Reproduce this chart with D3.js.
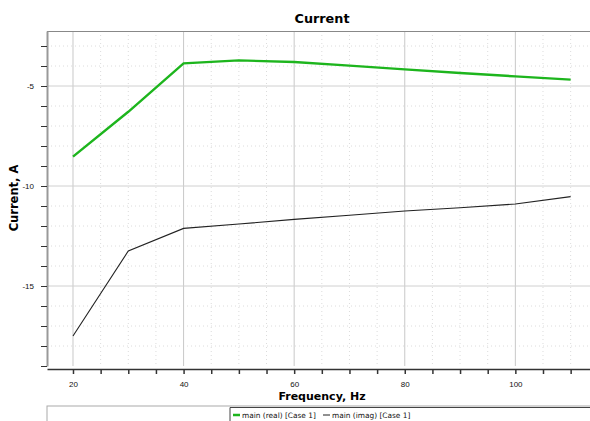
<!DOCTYPE html>
<html>
<head>
<meta charset="utf-8">
<script src="https://cdn.jsdelivr.net/npm/d3@7"></script>
<style>
body{margin:0;background:#fff}
svg{display:block;font-family:"DejaVu Sans",Verdana,sans-serif}
</style>
</head>
<body>
<script>
const w=590
const h=421

// data
const freq=[20,30,40,50,60,70,80,90,100,110]
const realVals=[-8.53,-6.29,-3.87,-3.72,-3.8,-3.98,-4.17,-4.35,-4.52,-4.68]
const imagVals=[-17.5,-13.25,-12.12,-11.9,-11.67,-11.46,-11.25,-11.09,-10.9,-10.53]
const xLabelTicks=[20,40,60,80,100]
const yLabelTicks=[-5,-10,-15]
const seriesNames=["main (real) [Case 1]","main (imag) [Case 1]"]

const pLeft=47, pRight=590, pTop=31, pBottom=366

const x=d3.scaleLinear()
    .domain([15.3,113.5])
    .range([pLeft,pRight])

const y=d3.scaleLinear()
    .domain([-19,-2.25])
    .range([pBottom,pTop])

const svg=d3.create("svg")
    .attr("width",w)
    .attr("height",h)

svg.append("rect").attr("width",w).attr("height",h).attr("fill","#fff")

//grid
const g=svg.append("g")
const minorX=d3.range(20,115,5).filter(d=>!xLabelTicks.includes(d))
const minorY=d3.range(-18,-2,1).filter(d=>!yLabelTicks.includes(d))

g.selectAll(".mx").data(minorX).enter().append("line")
    .attr("x1",d=>x(d)).attr("x2",d=>x(d))
    .attr("y1",pTop).attr("y2",pBottom)
    .attr("stroke","#dcdcdc").attr("stroke-dasharray","1,3")
g.selectAll(".my").data(minorY).enter().append("line")
    .attr("x1",pLeft).attr("x2",pRight)
    .attr("y1",d=>y(d)).attr("y2",d=>y(d))
    .attr("stroke","#dcdcdc").attr("stroke-dasharray","1,3")
g.selectAll(".Mx").data(xLabelTicks).enter().append("line")
    .attr("x1",d=>x(d)).attr("x2",d=>x(d))
    .attr("y1",pTop).attr("y2",pBottom)
    .attr("stroke","#c8c8c8")
g.selectAll(".My").data(yLabelTicks).enter().append("line")
    .attr("x1",pLeft).attr("x2",pRight)
    .attr("y1",d=>y(d)).attr("y2",d=>y(d))
    .attr("stroke","#d0d0d0")

//frame top
svg.append("line").attr("x1",pLeft).attr("x2",pRight).attr("y1",pTop+0.5).attr("y2",pTop+0.5)
    .attr("stroke","#888")

//lines
const line=d3.line().x((d,i)=>x(freq[i])).y(d=>y(d))
svg.append("path").datum(imagVals)
    .attr("d",line).attr("fill","none")
    .attr("stroke","#222").attr("stroke-width",1.1)
svg.append("path").datum(realVals)
    .attr("d",line).attr("fill","none")
    .attr("stroke","#1db51d").attr("stroke-width",2.4)

//axes
const xAxis=svg.append("g")
    .attr("transform",`translate(0,369)`)
    .call(d3.axisBottom(x).tickValues(d3.range(20,115,5)).tickSize(5).tickSizeOuter(0)
        .tickFormat(d=>xLabelTicks.includes(d)?d:""))
xAxis.select(".domain").attr("stroke","#333").attr("stroke-width",1.5)
xAxis.selectAll(".tick line").attr("stroke","#333").attr("stroke-width",1.5)
xAxis.selectAll("text").attr("font-size",8).attr("fill","#111").attr("y",17.5).attr("dy",0)

const yAxis=svg.append("g")
    .attr("transform",`translate(${pLeft},0)`)
    .call(d3.axisLeft(y).tickValues(d3.range(-19,-2,1)).tickSize(6).tickSizeOuter(0)
        .tickFormat(d=>yLabelTicks.includes(d)?d:""))
yAxis.select(".domain").attr("stroke","#999").attr("stroke-width",2)
yAxis.selectAll(".tick line").attr("stroke","#333")
yAxis.selectAll("text").attr("font-size",8).attr("fill","#111").attr("x",-13)

//titles
svg.append("text").attr("x",322).attr("y",23).attr("text-anchor","middle")
    .attr("font-size",12.8).attr("font-weight","bold").text("Current")
svg.append("text").attr("x",322).attr("y",400).attr("text-anchor","middle")
    .attr("font-size",11).attr("font-weight","bold").text("Frequency, Hz")
svg.append("text").attr("transform","translate(18,198) rotate(-90)").attr("text-anchor","middle")
    .attr("font-size",11.5).attr("font-weight","bold").text("Current, A")

//legend
svg.append("rect").attr("x",pLeft).attr("y",406).attr("width",pRight-pLeft+2).attr("height",20)
    .attr("fill","#fff").attr("stroke","#aaa")
svg.append("path").attr("d",`M230,${h} V407.5 H${pRight}`).attr("fill","none").attr("stroke","#444")
const legColors=["#1db51d","#222"]
const legX=[233,323]
const lg=svg.append("g").selectAll("g").data(seriesNames).enter().append("g")
    .attr("transform",(d,i)=>`translate(${legX[i]},415)`)
lg.append("line").attr("x1",0).attr("x2",7).attr("y1",0).attr("y2",0)
    .attr("stroke",(d,i)=>legColors[i]).attr("stroke-width",(d,i)=>i==0?2.5:1)
lg.append("text").attr("x",9).attr("y",2.7).attr("font-size",7.4)
    .attr("fill","#111").text(d=>d)

//adding svg to body
d3.select("body").append(()=>svg.node())
</script>
</body>
</html>
